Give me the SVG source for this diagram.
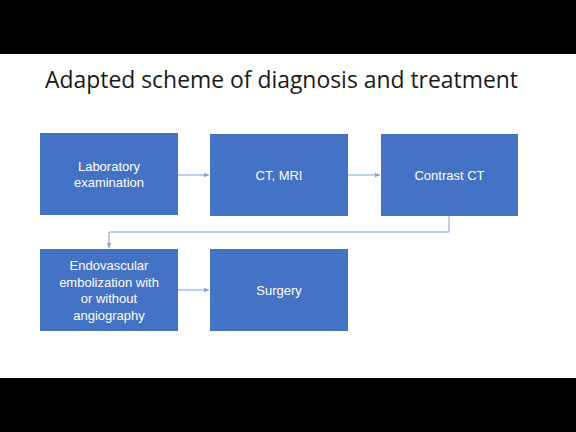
<svg xmlns="http://www.w3.org/2000/svg" width="576" height="432" viewBox="0 0 576 432">
<defs>
<style>
.box{fill:#4472C4;}
.lbl{font-family:"Liberation Sans","Noto Sans",sans-serif;font-size:13px;fill:#ffffff;text-anchor:middle;}
.ttl{font-family:"Open Sans","Liberation Sans",sans-serif;font-size:23px;fill:#1a1a1a;}
.con{stroke:#7F9FD6;stroke-width:1;fill:none;marker-end:url(#ah);}
</style>
<marker id="ah" markerWidth="6" markerHeight="6" refX="5" refY="3" orient="auto" markerUnits="userSpaceOnUse">
<path d="M0,0.8 L5,3 L0,5.2 z" fill="#7F9FD6"/>
</marker>
</defs>
<rect x="0" y="0" width="576" height="432" fill="#ffffff"/>
<rect x="0" y="0" width="576" height="54" fill="#000000"/>
<rect x="0" y="378" width="576" height="54" fill="#000000"/>
<text class="ttl" x="45" y="88" textLength="473" lengthAdjust="spacingAndGlyphs">Adapted scheme of diagnosis and treatment</text>
<g id="connectors">
<path class="con" d="M178,175 L209,175"/>
<path class="con" d="M348,175 L380,175"/>
<path class="con" d="M449,216 L449,232 L109,232 L109,248"/>
<path class="con" d="M178,290 L209,290"/>
</g>
<g id="lab">
<rect class="box" x="40" y="133" width="138" height="82"/>
<text class="lbl" x="109" y="171">Laboratory</text>
<text class="lbl" x="109" y="187">examination</text>
</g>
<g id="ctmri">
<rect class="box" x="210" y="134" width="138" height="82"/>
<text class="lbl" x="279" y="180">CT, MRI</text>
</g>
<g id="contrast">
<rect class="box" x="381" y="134" width="137" height="82"/>
<text class="lbl" x="449.5" y="180">Contrast CT</text>
</g>
<g id="endo">
<rect class="box" x="40" y="249" width="138" height="82"/>
<text class="lbl" x="109" y="270">Endovascular</text>
<text class="lbl" x="109" y="287">embolization with</text>
<text class="lbl" x="109" y="303">or without</text>
<text class="lbl" x="109" y="320">angiography</text>
</g>
<g id="surgery">
<rect class="box" x="210" y="249" width="138" height="82"/>
<text class="lbl" x="279" y="295">Surgery</text>
</g>
</svg>
